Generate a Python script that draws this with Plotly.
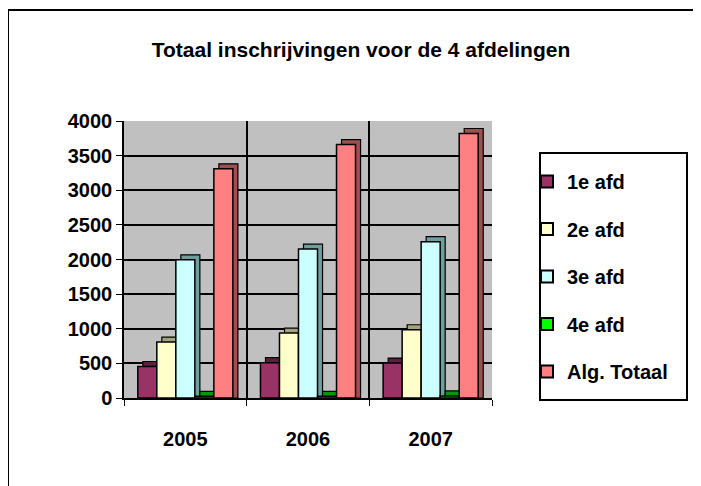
import plotly.graph_objects as go

# ---- data ----
years = ["2005", "2006", "2007"]
series_names = ["1e afd", "2e afd", "3e afd", "4e afd", "Alg. Totaal"]
afd1 = [455, 510, 505]
afd2 = [808, 938, 986]
afd3 = [1995, 2150, 2258]
afd4 = [25, 25, 30]
totaal = [3310, 3660, 3820]
y_ticks = [0, 500, 1000, 1500, 2000, 2500, 3000, 3500, 4000]

values = [afd1, afd2, afd3, afd4, totaal]
front_colors = ["#993366", "#FFFFCC", "#CCFFFF", "#00FF00", "#FF8080"]
side_colors = ["#5C1F3D", "#A3A37A", "#6E9E9E", "#009900", "#9E4F4F"]

FONT = dict(family="Liberation Sans, Arial, sans-serif", size=20, color="black", weight="bold")

bar_w = 0.155
dx = 0.041      # depth shift (category units)
dy = 72         # depth shift (value units)
start = -bar_w * 5 / 2

fig = go.Figure()
for k, (name, vals) in enumerate(zip(series_names, values)):
    off = start + k * bar_w
    # depth (side/top) box
    fig.add_trace(go.Bar(
        x=years, y=[v + dy for v in vals], base=0,
        offset=off + dx, width=bar_w,
        marker=dict(color=side_colors[k], line=dict(color="black", width=1.2)),
        showlegend=False, legendgroup=name, hoverinfo="skip",
    ))
    # front face
    fig.add_trace(go.Bar(
        x=years, y=vals, name=name,
        offset=off, width=bar_w,
        marker=dict(color=front_colors[k], line=dict(color="black", width=1.5)),
        legendgroup=name,
    ))

W, H = 701, 486
L, T = 116, 113
PR, PB = 484, 390          # plot right / bottom (figure px)
R, B = W - PR, H - PB
pw, ph = PR - L, PB - T

def px_x(p):
    return (p - L) / pw

def px_y(p):
    return (PB - p) / ph

fig.update_layout(
    width=W, height=H,
    margin=dict(l=L, r=R, t=T, b=B),
    barmode="overlay",
    paper_bgcolor="white",
    plot_bgcolor="#C0C0C0",
    font=FONT,
    title=dict(text="Totaal inschrijvingen voor de 4 afdelingen",
               x=353 / W, xanchor="center", y=1 - 42 / H, yanchor="middle",
               font=dict(family=FONT["family"], size=21, color="black", weight="bold")),
    legend=dict(
        x=px_x(519), y=px_y(154), xanchor="left", yanchor="top",
        borderwidth=0, bgcolor="rgba(0,0,0,0)",
        tracegroupgap=18.5, traceorder="grouped",
        font=FONT, itemsizing="constant",
    ),
    xaxis=dict(
        type="category", showline=True, linecolor="black", linewidth=1.5,
        ticks="outside", ticklen=6, tickcolor="black", tickson="boundaries",
        showgrid=True, gridcolor="black", gridwidth=1.5,
        ticklabelstandoff=22, range=[-0.5, 2.5],
    ),
    yaxis=dict(
        range=[0, 4000], tickvals=y_ticks, showline=True, linecolor="black", linewidth=1.5,
        ticks="outside", ticklen=6, tickcolor="black",
        showgrid=True, gridcolor="black", gridwidth=1.5, zeroline=False,
    ),
    shapes=[
        dict(type="rect", xref="paper", yref="paper",
             x0=px_x(0), x1=px_x(710), y0=px_y(500), y1=px_y(2),
             line=dict(color="black", width=2), layer="below"),
        dict(type="rect", xref="paper", yref="paper",
             x0=px_x(532), x1=px_x(679), y0=px_y(392), y1=px_y(145),
             line=dict(color="black", width=2), fillcolor="white", layer="below"),
    ],
)

fig.write_html("out.html")
